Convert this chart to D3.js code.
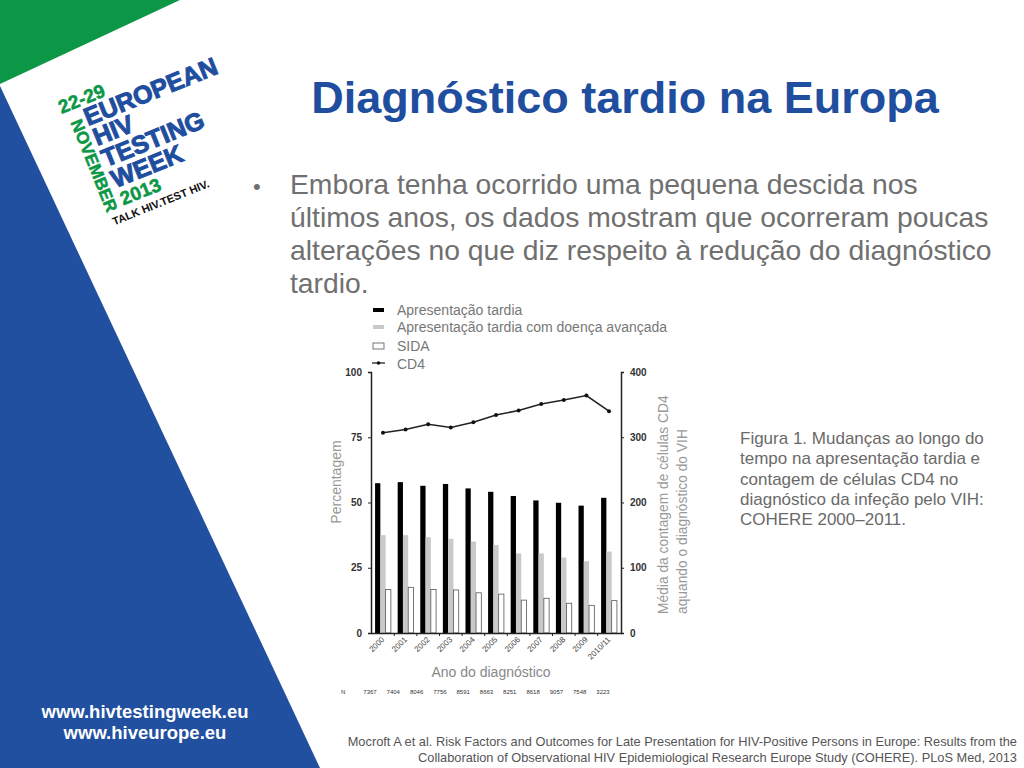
<!DOCTYPE html>
<html>
<head>
<meta charset="utf-8">
<script src="https://cdn.jsdelivr.net/npm/d3@7"></script>
<style>
  body { margin: 0; background: #fff; }
  text { font-family: "Liberation Sans", Arial, sans-serif; }
</style>
</head>
<body>
<div id="app"></div>
<script>
// chart values (COHERE 2000-2011)
const years = ["2000", "2001", "2002", "2003", "2004", "2005", "2006", "2007", "2008", "2009", "2010/11"];
const latePresentation = [57.4, 57.8, 56.4, 57.1, 55.4, 54.1, 52.5, 50.8, 49.9, 48.8, 51.8];
const advancedDisease = [37.5, 37.5, 36.7, 36.1, 35.0, 33.7, 30.5, 30.5, 28.9, 27.5, 31.2];
const aids = [16.7, 17.5, 16.7, 16.5, 15.4, 14.9, 12.6, 13.3, 11.4, 10.6, 12.4];
const cd4 = [307, 312, 320, 315, 323, 334, 341, 351, 357, 364, 340];
const nCounts = [7367, 7404, 8046, 7756, 8591, 8663, 8251, 8618, 9057, 7548, 3223];
const pctTicks = [0, 25, 50, 75, 100];
const cd4Ticks = [0, 100, 200, 300, 400];
const seriesKeys = ["late", "adv", "aids"];
const legendLabels = ["Apresentação tardia", "Apresentação tardia com doença avançada", "SIDA", "CD4"];

const bulletLines = [
  "Embora tenha ocorrido uma pequena descida nos",
  "últimos anos, os dados mostram que ocorreram poucas",
  "alterações no que diz respeito à redução do diagnóstico",
  "tardio."
];
const captionLines = [
  "Figura 1. Mudanças ao longo do",
  "tempo na apresentação tardia e",
  "contagem de células CD4 no",
  "diagnóstico da infeção pelo VIH:",
  "COHERE 2000–2011."
];

const BLUE = "#1f4e9f", GREEN = "#0b9746";

const svg = d3.select("#app").append("svg")
  .attr("width", 1024)
  .attr("height", 768);

// slide background shapes
svg.append("polygon").attr("points", "0,0 180,0 0,84").attr("fill", GREEN);
svg.append("polygon").attr("points", "0,86 320,768 0,768").attr("fill", "#2150a0");

// logo
const logo = svg.append("g").attr("transform", "translate(88,126) rotate(-22)");
const logoLines = [["EUROPEAN", 0, 0], ["HIV", 1, 22], ["TESTING", 1, 45], ["WEEK", 2, 68]];
logoLines.forEach(l => {
  logo.append("text").attr("x", l[1]).attr("y", l[2]).text(l[0])
    .attr("font-size", 25).attr("font-weight", "bold").attr("fill", BLUE)
    .attr("stroke", BLUE).attr("stroke-width", 1);
});
logo.append("text").attr("x", -20).attr("y", -21).text("22-29")
  .attr("font-size", 19).attr("font-weight", "bold").attr("fill", GREEN)
  .attr("stroke", GREEN).attr("stroke-width", 0.5);
logo.append("text").attr("x", 3).attr("y", 87).text("2013")
  .attr("font-size", 19).attr("font-weight", "bold").attr("fill", GREEN)
  .attr("stroke", GREEN).attr("stroke-width", 0.5);
logo.append("text").attr("transform", "translate(-15,-10) rotate(90)").text("NOVEMBER")
  .attr("font-size", 17).attr("font-weight", "bold").attr("fill", GREEN)
  .attr("stroke", GREEN).attr("stroke-width", 0.5);
logo.append("text").attr("x", -13).attr("y", 102).text("TALK HIV.TEST HIV.")
  .attr("font-size", 11).attr("font-weight", "bold").attr("fill", "#111");

// footer urls
svg.append("text").attr("x", 145).attr("y", 718).attr("text-anchor", "middle")
  .attr("font-size", 18.5).attr("font-weight", "bold").attr("fill", "#fff").text("www.hivtestingweek.eu");
svg.append("text").attr("x", 145).attr("y", 739).attr("text-anchor", "middle")
  .attr("font-size", 18.5).attr("font-weight", "bold").attr("fill", "#fff").text("www.hiveurope.eu");

// title
svg.append("text").attr("x", 625).attr("y", 113).attr("text-anchor", "middle")
  .attr("font-size", 45).attr("font-weight", "bold").attr("fill", BLUE)
  .text("Diagnóstico tardio na Europa");

// bullet
svg.append("text").attr("x", 253).attr("y", 194).attr("font-size", 22).attr("fill", "#707070").text("•");
svg.selectAll(".bl").data(bulletLines).enter().append("text")
  .attr("x", 290).attr("y", (d, i) => 194 + i * 33)
  .attr("font-size", 28.3).attr("fill", "#707070").text(d => d);

// caption
svg.selectAll(".cap").data(captionLines).enter().append("text")
  .attr("x", 740).attr("y", (d, i) => 444 + i * 20.3)
  .attr("font-size", 17).attr("fill", "#6a6a6a").text(d => d);

// citation
svg.append("text").attr("x", 1017).attr("y", 746).attr("text-anchor", "end")
  .attr("font-size", 12.8).attr("fill", "#555").style("font-family", "'Liberation Sans Narrow', 'Arial Narrow', sans-serif")
  .text("Mocroft A et al. Risk Factors and Outcomes for Late Presentation for HIV-Positive Persons in Europe: Results from the");
svg.append("text").attr("x", 1017).attr("y", 762).attr("text-anchor", "end")
  .attr("font-size", 12.8).attr("fill", "#555").style("font-family", "'Liberation Sans Narrow', 'Arial Narrow', sans-serif")
  .text("Collaboration of Observational HIV Epidemiological Research Europe Study (COHERE).  PLoS Med, 2013");

// chart scales
const x = d3.scaleBand().domain(years).range([371, 621]).paddingInner(0.3).paddingOuter(0.18);
const x1 = d3.scaleBand().domain(seriesKeys).range([0, x.bandwidth()]);
const y = d3.scaleLinear().domain([0, 100]).range([633, 372]);
const yR = d3.scaleLinear().domain([0, 400]).range([633, 372]);
const nx = d3.scalePoint().domain(years).range([370, 603]);

const rows = years.map((yr, i) => ({ year: yr, late: latePresentation[i], adv: advancedDisease[i], aids: aids[i], cd4: cd4[i], n: nCounts[i] }));
const fills = { late: "#000", adv: "#c9c9c9", aids: "#fff" };

const groups = svg.selectAll(".grp").data(rows).enter().append("g")
  .attr("transform", d => "translate(" + x(d.year) + ",0)");
groups.selectAll("rect").data(d => seriesKeys.map(k => ({ key: k, value: d[k] }))).enter().append("rect")
  .attr("x", d => x1(d.key))
  .attr("y", d => y(d.value))
  .attr("width", x1.bandwidth())
  .attr("height", d => y(0) - y(d.value))
  .attr("fill", d => fills[d.key])
  .attr("stroke", d => d.key === "aids" ? "#555" : "none")
  .attr("stroke-width", 0.8);

// axes
const axisLeft = svg.append("g").attr("transform", "translate(371,0)")
  .call(d3.axisLeft(y).tickValues(pctTicks).tickSize(3).tickPadding(6));
const axisRight = svg.append("g").attr("transform", "translate(621,0)")
  .call(d3.axisRight(yR).tickValues(cd4Ticks).tickSize(3).tickPadding(6));
[axisLeft, axisRight].forEach(a => {
  a.selectAll("text").attr("font-size", 10).attr("font-weight", "bold").attr("fill", "#333");
  a.select(".domain").attr("stroke", "#222").attr("stroke-width", 1.5);
  a.selectAll(".tick line").attr("stroke", "#222");
});
svg.append("g").attr("transform", "translate(0,633)")
  .call(d3.axisBottom(x).tickSize(0).tickFormat(""))
  .select(".domain").attr("stroke", "#222").attr("stroke-width", 1.5);

// little tick marks between groups
svg.selectAll(".gap").data(years.slice(1)).enter().append("line")
  .attr("x1", d => x(d) - x.step() * x.paddingInner() / 2)
  .attr("x2", d => x(d) - x.step() * x.paddingInner() / 2)
  .attr("y1", 633).attr("y2", 636).attr("stroke", "#222");

svg.selectAll(".xl").data(years).enter().append("text")
  .attr("transform", d => "translate(" + (x(d) + x.bandwidth() / 2 + 2) + ",640) rotate(-45)")
  .attr("text-anchor", "end").attr("font-size", 8).attr("fill", "#444").text(d => d);

// CD4 line
const line = d3.line().x(d => x(d.year) + x.bandwidth() / 2).y(d => yR(d.cd4));
svg.append("path").datum(rows).attr("d", line).attr("fill", "none").attr("stroke", "#222").attr("stroke-width", 1.6);
svg.selectAll(".pt").data(rows).enter().append("circle")
  .attr("cx", d => x(d.year) + x.bandwidth() / 2).attr("cy", d => yR(d.cd4))
  .attr("r", 2).attr("fill", "#111");

// N row
svg.append("text").attr("x", 341).attr("y", 694).attr("font-size", 6).attr("fill", "#333").text("N");
svg.selectAll(".nn").data(rows).enter().append("text")
  .attr("x", d => nx(d.year)).attr("y", 694).attr("text-anchor", "middle")
  .attr("font-size", 6).attr("fill", "#333").text(d => d.n);

// axis titles
svg.append("text").attr("x", 491).attr("y", 677).attr("text-anchor", "middle")
  .attr("font-size", 14).attr("fill", "#888").text("Ano do diagnóstico");
svg.append("text").attr("transform", "translate(341,482) rotate(-90)").attr("text-anchor", "middle")
  .attr("font-size", 14).attr("fill", "#999").text("Percentagem");
svg.append("text").attr("transform", "translate(668,614) rotate(-90)")
  .attr("font-size", 13.8).attr("fill", "#999").text("Média da contagem de células CD4");
svg.append("text").attr("transform", "translate(687,614) rotate(-90)")
  .attr("font-size", 13.8).attr("fill", "#999").text("aquando o diagnóstico do VIH");

// legend
const legend = svg.append("g");
const ly = [310, 327, 346, 364];
legend.append("rect").attr("x", 373).attr("y", ly[0] - 2).attr("width", 11).attr("height", 4).attr("fill", fills.late);
legend.append("rect").attr("x", 373).attr("y", ly[1] - 2).attr("width", 11).attr("height", 4).attr("fill", fills.adv);
legend.append("rect").attr("x", 373).attr("y", ly[2] - 3).attr("width", 11).attr("height", 6)
  .attr("fill", "#fff").attr("stroke", "#555").attr("stroke-width", 0.8);
legend.append("line").attr("x1", 372).attr("x2", 385).attr("y1", ly[3] - 1).attr("y2", ly[3] - 1).attr("stroke", "#222").attr("stroke-width", 1.3);
legend.append("circle").attr("cx", 378.5).attr("cy", ly[3] - 1).attr("r", 1.8).attr("fill", "#111");
legend.selectAll(".lt").data(legendLabels).enter().append("text")
  .attr("x", 397).attr("y", (d, i) => ly[i] + 4.5)
  .attr("font-size", 14).attr("fill", "#777").text(d => d);
</script>
</body>
</html>
